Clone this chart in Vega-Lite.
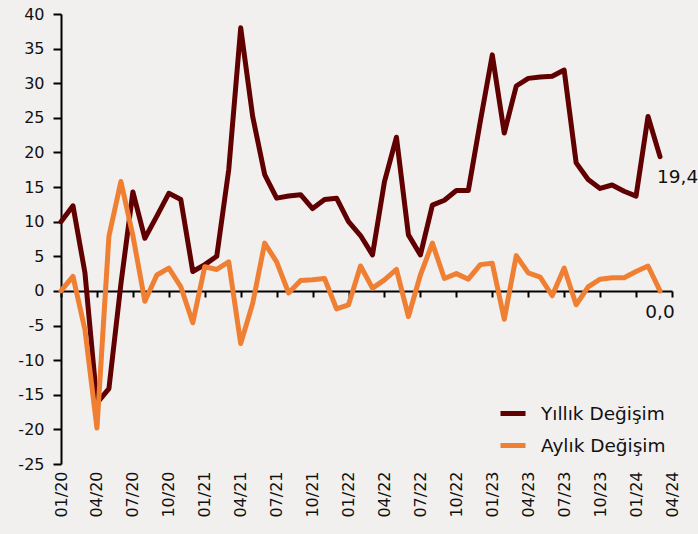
{
  "$schema": "https://vega.github.io/schema/vega-lite/v6.json",
  "width": 611,
  "height": 450,
  "autosize": "none",
  "padding": {"left": 61, "top": 14, "right": 26, "bottom": 70},
  "background": "#F2F0EF",
  "config": {
    "view": {"stroke": null},
    "font": "DejaVu Sans",
    "axis": {"labelFont": "DejaVu Sans", "labelFontSize": 16, "labelColor": "#111111", "grid": false, "title": null, "labelOverlap": false},
    "axisY": {"labelOverlap": false, "labelBound": false},
    "legend": {
      "orient": "none", "legendX": 437, "legendY": 384.5, "padding": 0,
      "labelFont": "DejaVu Sans", "labelFontSize": 18.5, "labelColor": "#111111",
      "symbolType": "stroke", "symbolSize": 625, "symbolStrokeWidth": 5,
      "labelOffset": 13, "rowPadding": 7
    }
  },
  "data": {"values": [
    {"d": "01/20", "s1": 10.0, "s2": 0.0},
    {"d": "02/20", "s1": 12.3, "s2": 2.1},
    {"d": "03/20", "s1": 2.6, "s2": -5.6},
    {"d": "04/20", "s1": -16.2, "s2": -19.8},
    {"d": "05/20", "s1": -14.1, "s2": 7.9},
    {"d": "06/20", "s1": 1.0, "s2": 15.8},
    {"d": "07/20", "s1": 14.3, "s2": 8.0},
    {"d": "08/20", "s1": 7.6, "s2": -1.5},
    {"d": "09/20", "s1": 10.8, "s2": 2.3},
    {"d": "10/20", "s1": 14.1, "s2": 3.3},
    {"d": "11/20", "s1": 13.2, "s2": 0.6},
    {"d": "12/20", "s1": 2.8, "s2": -4.6},
    {"d": "01/21", "s1": 3.8, "s2": 3.5},
    {"d": "02/21", "s1": 5.0, "s2": 3.1},
    {"d": "03/21", "s1": 17.5, "s2": 4.2},
    {"d": "04/21", "s1": 38.0, "s2": -7.6},
    {"d": "05/21", "s1": 25.2, "s2": -1.8},
    {"d": "06/21", "s1": 16.8, "s2": 6.9},
    {"d": "07/21", "s1": 13.4, "s2": 4.2},
    {"d": "08/21", "s1": 13.7, "s2": -0.3},
    {"d": "09/21", "s1": 13.9, "s2": 1.5},
    {"d": "10/21", "s1": 11.9, "s2": 1.6},
    {"d": "11/21", "s1": 13.2, "s2": 1.8},
    {"d": "12/21", "s1": 13.4, "s2": -2.6},
    {"d": "01/22", "s1": 10.0, "s2": -2.0},
    {"d": "02/22", "s1": 8.0, "s2": 3.6},
    {"d": "03/22", "s1": 5.2, "s2": 0.4},
    {"d": "04/22", "s1": 15.8, "s2": 1.6},
    {"d": "05/22", "s1": 22.2, "s2": 3.1},
    {"d": "06/22", "s1": 8.1, "s2": -3.7},
    {"d": "07/22", "s1": 5.2, "s2": 2.3},
    {"d": "08/22", "s1": 12.4, "s2": 6.9},
    {"d": "09/22", "s1": 13.1, "s2": 1.8},
    {"d": "10/22", "s1": 14.5, "s2": 2.5},
    {"d": "11/22", "s1": 14.5, "s2": 1.7},
    {"d": "12/22", "s1": 24.5, "s2": 3.8},
    {"d": "01/23", "s1": 34.1, "s2": 4.0},
    {"d": "02/23", "s1": 22.8, "s2": -4.1},
    {"d": "03/23", "s1": 29.6, "s2": 5.1},
    {"d": "04/23", "s1": 30.7, "s2": 2.6},
    {"d": "05/23", "s1": 30.9, "s2": 2.0},
    {"d": "06/23", "s1": 31.0, "s2": -0.7},
    {"d": "07/23", "s1": 31.9, "s2": 3.3},
    {"d": "08/23", "s1": 18.5, "s2": -2.0},
    {"d": "09/23", "s1": 16.1, "s2": 0.6},
    {"d": "10/23", "s1": 14.8, "s2": 1.7},
    {"d": "11/23", "s1": 15.3, "s2": 1.9},
    {"d": "12/23", "s1": 14.4, "s2": 1.9},
    {"d": "01/24", "s1": 13.7, "s2": 2.8},
    {"d": "02/24", "s1": 25.2, "s2": 3.6},
    {"d": "03/24", "s1": 19.4, "s2": 0.0}
  ]},
  "transform": [{"fold": ["s1", "s2"], "as": ["seri", "deger"]}],
  "layer": [
    {
      "mark": {"type": "line", "strokeWidth": 5, "strokeJoin": "round", "strokeCap": "round"},
      "encoding": {
        "x": {
          "field": "d", "type": "ordinal",
          "scale": {"type": "point", "padding": 0, "domain": ["01/20","02/20","03/20","04/20","05/20","06/20","07/20","08/20","09/20","10/20","11/20","12/20","01/21","02/21","03/21","04/21","05/21","06/21","07/21","08/21","09/21","10/21","11/21","12/21","01/22","02/22","03/22","04/22","05/22","06/22","07/22","08/22","09/22","10/22","11/22","12/22","01/23","02/23","03/23","04/23","05/23","06/23","07/23","08/23","09/23","10/23","11/23","12/23","01/24","02/24","03/24","04/24"]},
          "axis": {"values": ["01/20","04/20","07/20","10/20","01/21","04/21","07/21","10/21","01/22","04/22","07/22","10/22","01/23","04/23","07/23","10/23","01/24","04/24"], "labelAngle": -90, "domain": false, "ticks": false, "labelPadding": 7, "labelOverlap": false, "title": null}
        },
        "y": {
          "field": "deger", "type": "quantitative",
          "scale": {"domain": [-25, 40], "nice": false, "zero": false},
          "axis": {"values": [-25,-20,-15,-10,-5,0,5,10,15,20,25,30,35,40], "labelExpr": "'' + datum.value", "labelOverlap": false, "domainWidth": 2, "domainColor": "#000000", "tickColor": "#000000", "tickSize": 8, "tickWidth": 2, "labelPadding": 9, "title": null}
        },
        "color": {
          "field": "seri", "type": "nominal",
          "scale": {"domain": ["s1", "s2"], "range": ["#600000", "#EF7F32"]},
          "legend": {"title": null, "labelExpr": "datum.label == 's1' ? 'Yıllık Değişim' : 'Aylık Değişim'"}
        }
      }
    },
    {
      "transform": [{"filter": "datum.d == '03/24' && datum.seri == 's1'"}, {"calculate": "replace(format(datum.deger, '.1f'), '.', ',')", "as": "lab"}],
      "mark": {"type": "text", "align": "left", "baseline": "middle", "dx": -3, "dy": 20, "fontSize": 18.5, "color": "#111111"},
      "encoding": {
        "x": {
          "field": "d", "type": "ordinal",
          "scale": {"type": "point", "padding": 0},
          "axis": {"values": ["01/20","04/20","07/20","10/20","01/21","04/21","07/21","10/21","01/22","04/22","07/22","10/22","01/23","04/23","07/23","10/23","01/24","04/24"], "orient": "bottom", "offset": -173, "labels": false, "domain": true, "domainWidth": 2, "domainColor": "#000000", "ticks": true, "tickSize": 6, "tickWidth": 2, "tickColor": "#000000", "title": null}
        },
        "y": {"field": "deger", "type": "quantitative", "axis": null},
        "text": {"field": "lab"}
      }
    },
    {
      "transform": [{"filter": "datum.d == '03/24' && datum.seri == 's2'"}, {"calculate": "replace(format(datum.deger, '.1f'), '.', ',')", "as": "lab"}],
      "mark": {"type": "text", "align": "center", "baseline": "middle", "dx": 0, "dy": 21, "fontSize": 18.5, "color": "#111111"},
      "encoding": {
        "x": {"field": "d", "type": "ordinal", "scale": {"type": "point", "padding": 0}, "axis": null},
        "y": {"field": "deger", "type": "quantitative", "axis": null},
        "text": {"field": "lab"}
      }
    }
  ],
  "resolve": {"axis": {"x": "independent", "y": "independent"}}
}
